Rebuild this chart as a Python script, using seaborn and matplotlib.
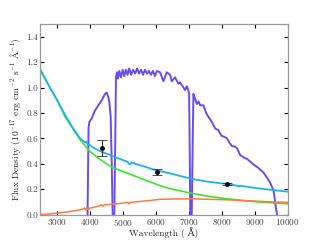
import numpy as np
import pandas as pd
import matplotlib
matplotlib.use("Agg")
import matplotlib.pyplot as plt
import seaborn as sns

# filter transmission curves
f1_wave = [3940, 3955, 3970, 3995, 4065, 4167, 4267, 4369, 4470, 4520, 4570, 4600, 4640, 4670, 4700]
f1_val = [0.0, 0.35, 0.68, 0.73, 0.757, 0.82, 0.86, 0.90, 0.95, 0.96, 0.925, 0.885, 0.77, 0.43, 0.0]

f2_wave = [4750, 4780, 4800, 4830, 4860, 4900, 4950, 5000, 5050, 5100, 5150, 5200, 5260, 5320,
           5380, 5440, 5500, 5560, 5620, 5680, 5740, 5800, 5860, 5920, 5980, 6040, 6136, 6236,
           6340, 6440, 6490, 6590, 6690, 6740, 6845, 6890, 6945, 6990, 7015, 7035, 7050]
f2_val = [0.0, 0.6, 1.08, 1.12, 1.07, 1.13, 1.08, 1.14, 1.09, 1.14, 1.10, 1.15, 1.10, 1.14,
          1.11, 1.15, 1.11, 1.14, 1.10, 1.14, 1.11, 1.13, 1.10, 1.13, 1.09, 1.13, 1.12, 1.05,
          1.12, 1.10, 1.05, 1.08, 1.03, 1.04, 1.00, 0.98, 1.01, 0.98, 0.95, 0.45, 0.0]

f3_wave = [7095, 7120, 7145, 7200, 7250, 7300, 7350, 7400, 7450, 7500, 7550, 7600, 7650, 7700,
           7750, 7800, 7850, 7900, 7950, 8000, 8100, 8160, 8250, 8310, 8400, 8460, 8560, 8610,
           8700, 8760, 8850, 8960, 9100, 9270, 9400, 9470, 9520, 9570, 9600, 9620, 9650, 9680]
f3_val = [0.0, 0.5, 0.95, 0.91, 0.87, 0.89, 0.86, 0.86, 0.86, 0.82, 0.79, 0.77, 0.75, 0.73,
          0.705, 0.68, 0.67, 0.667, 0.64, 0.62, 0.61, 0.60, 0.56, 0.54, 0.535, 0.525, 0.47, 0.46,
          0.445, 0.44, 0.42, 0.395, 0.37, 0.33, 0.28, 0.25, 0.22, 0.19, 0.14, 0.10, 0.04, 0.0]

# galaxy model spectrum (cyan)
model_wave = [2500, 2800, 3000, 3310, 3500, 3712, 3850, 3900, 3950, 4015, 4100, 4200, 4318, 4500,
              4620, 4800, 5000, 5150, 5190, 5227, 5270, 5500, 5700, 5934, 6136, 6500, 7045,
              7500, 8157, 8450, 8500, 8550, 9000, 9500, 10000]
model_val = [1.14, 1.00, 0.91, 0.76, 0.68, 0.60, 0.57, 0.575, 0.55, 0.545, 0.53, 0.515, 0.50, 0.48,
             0.47, 0.45, 0.43, 0.415, 0.40, 0.395, 0.41, 0.39, 0.375, 0.355, 0.343, 0.32, 0.284,
             0.262, 0.24, 0.228, 0.222, 0.227, 0.21, 0.195, 0.18]

# power-law component (green)
pl_wave = [2500, 2800, 3000, 3258, 3500, 3712, 4000, 4318, 4600, 4823, 5227, 5600, 6136, 6500,
           7045, 7500, 8157, 8600, 9000, 9500, 10000]
pl_val = [1.15, 1.00, 0.91, 0.77, 0.675, 0.59, 0.50, 0.434, 0.385, 0.357, 0.318, 0.28, 0.227, 0.20,
          0.17, 0.148, 0.124, 0.112, 0.102, 0.093, 0.085]

# stellar component (orange)
star_wave = [2500, 2700, 2900, 3100, 3309, 3500, 3700, 3812, 3850, 3880, 3920, 3950, 4000, 4100,
             4200, 4318, 4350, 4400, 4450, 4600, 4824, 5000, 5150, 5180, 5220, 5327, 5600, 5800,
             6136, 6500, 7045, 7500, 8157, 8500, 9000, 9500, 10000]
star_val = [0.0, 0.003, 0.008, 0.013, 0.02, 0.028, 0.036, 0.045, 0.052, 0.035, 0.056, 0.04, 0.05, 0.055,
            0.062, 0.07, 0.078, 0.066, 0.076, 0.08, 0.085, 0.09, 0.095, 0.084, 0.096, 0.098, 0.105, 0.11,
            0.12, 0.122, 0.124, 0.121, 0.116, 0.112, 0.106, 0.10, 0.097]

# photometry
phot_wave = [4370, 6056, 8157]
phot_flux = [0.525, 0.336, 0.24]
phot_err = [0.062, 0.026, 0.007]

sns.set_style("ticks")
plt.rcParams["font.family"] = "serif"
plt.rcParams["font.serif"] = ["cmr10", "DejaVu Serif"]
plt.rcParams["mathtext.fontset"] = "cm"
plt.rcParams["axes.formatter.use_mathtext"] = True
plt.rcParams["axes.unicode_minus"] = False

fig = plt.figure(figsize=(3.2, 2.4), dpi=100)
ax = fig.add_axes([0.125, 0.106, 0.774, 0.794])

purple = "#6a4cf2"
for w, v in [(f1_wave, f1_val), (f2_wave, f2_val), (f3_wave, f3_val)]:
    sns.lineplot(x=w, y=v, sort=False, estimator=None, color=purple, lw=1.4, ax=ax)

sns.lineplot(x=pl_wave, y=pl_val, sort=False, estimator=None, color="#3de62b", lw=1.2, ax=ax)
sns.lineplot(x=model_wave, y=model_val, sort=False, estimator=None, color="#1fb0f2", lw=1.3, ax=ax)
sns.lineplot(x=star_wave, y=star_val, sort=False, estimator=None, color="#ff7a3a", lw=1.1, ax=ax)

ax.errorbar(phot_wave, phot_flux, yerr=phot_err, fmt="o", color="black", ms=2.5,
            elinewidth=0.8, capsize=3.5, capthick=0.6, ecolor="#333333", zorder=5)

ax.set_xlim(2500, 10000)
ax.set_ylim(0, 1.5)
ax.set_xticks(np.arange(3000, 10001, 1000))
ax.set_yticks(np.arange(0, 1.41, 0.2))
ax.yaxis.set_major_formatter(matplotlib.ticker.FormatStrFormatter("%.1f"))
ax.tick_params(direction="in", top=True, right=True, length=3, width=0.8, color="black",
               labelsize=6.6, labelcolor="#444444", pad=1.5)
for s in ax.spines.values():
    s.set_color("#999999")
    s.set_linewidth(0.9)

ax.set_xlabel("Wavelength ( Å)", fontsize=6.8, va="baseline",
              family=["cmr10", "DejaVu Serif"])
ax.xaxis.set_label_coords(0.5, -0.115)
ax.set_ylabel(r"Flux Density ($10^{-17}$ erg cm$^{-2}$ s$^{-1}$ $\mathrm{\AA}^{-1}$)",
              fontsize=6.8, labelpad=2)

fig.savefig("out.png", dpi=100)
